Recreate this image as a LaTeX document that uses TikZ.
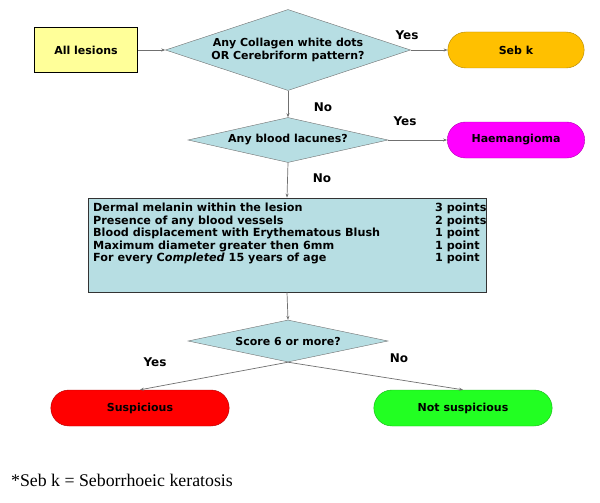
\documentclass[tikz,border=0pt]{standalone}
\usepackage{fontspec}
\setmainfont{DejaVu Sans}
\newfontfamily\footfont{Liberation Serif}
\usetikzlibrary{shapes.geometric,shapes.misc,arrows.meta}
\definecolor{dblue}{HTML}{B7DEE3}
\definecolor{lyellow}{HTML}{FFFF99}
\definecolor{sebk}{HTML}{FFC000}
\definecolor{magen}{HTML}{FF00FF}
\definecolor{redp}{HTML}{FF0000}
\definecolor{greenp}{HTML}{22FF22}
\definecolor{lineg}{HTML}{707070}
\tikzset{
  lbl/.style={font=\bfseries\fontsize{11}{13}\selectfont, text=black},
  decision/.style={diamond, draw=lineg, fill=dblue, inner sep=0pt, align=center, lbl},
  pill/.style={rounded rectangle, draw=#1!70!black, fill=#1, lbl},
  conn/.style={draw=lineg, line width=0.7pt, -{Stealth[length=4pt,width=3pt]}},
  ans/.style={lbl, font=\bfseries\fontsize{12}{14}\selectfont}
}
\begin{document}
\begin{tikzpicture}[x=1pt,y=-1pt]
\useasboundingbox[fill=white] (0,0) rectangle (600,503);
\node[draw=black, line width=0.8pt, fill=lyellow, minimum width=103pt, minimum height=45pt, lbl] (all) at (86,50) {All lesions};
\node[decision, shape aspect=3, minimum width=245pt, minimum height=81pt] (d1) at (288,50) {Any Collagen white dots\\OR Cerebriform pattern?};
\node[pill=sebk, minimum width=143pt, minimum height=36pt] (seb) at (516,50) {Seb k};
\node[decision, shape aspect=4.4, minimum width=200pt, minimum height=45pt] (d2) at (288,140) {Any blood lacunes?};
\node[pill=magen, minimum width=144pt, minimum height=36pt] (haem) at (516,140) {Haemangioma};
\node[draw=black!80, line width=0.8pt, fill=dblue, minimum width=398pt, minimum height=94pt] (box) at (287,245) {};
\node[anchor=north west, inner sep=0pt, lbl, font=\bfseries\fontsize{11.2}{15}\selectfont] (score) at (93,201) {%
\begin{tabular}{@{}p{342pt}@{}l@{}}
Dermal melanin within the lesion & 3 points\\[-2.5pt]
Presence of any blood vessels & 2 points\\[-2.5pt]
Blood displacement with Erythematous Blush & 1 point\\[-2.5pt]
Maximum diameter greater then 6mm & 1 point\\[-2.5pt]
For every C\textit{ompleted} 15 years of age & 1 point
\end{tabular}};
\node[decision, shape aspect=4.8, minimum width=200pt, minimum height=42pt] (d3) at (288,341) {Score 6 or more?};
\node[pill=redp, minimum width=185pt, minimum height=36pt] (susp) at (140,408) {Suspicious};
\node[pill=greenp, minimum width=185pt, minimum height=36pt] (nsusp) at (463,408) {Not suspicious};
\draw[conn] (all.east) -- (d1.west);
\draw[conn] (d1.east) -- (seb.west);
\draw[conn] (d1.south) -- (d2.north);
\draw[conn] (d2.east) -- (haem.west);
\draw[conn] (d2.south) -- (box.north);
\draw[conn] (box.south) -- (d3.north);
\draw[conn] (d3.south) -- (susp.north);
\draw[conn] (d3.south) -- (nsusp.north);
\node[ans] (y1) at (407,35) {Yes};
\node[ans] (n1) at (323,107) {No};
\node[ans] (y2) at (405,121) {Yes};
\node[ans] (n2) at (322,178) {No};
\node[ans] (y3) at (155,362) {Yes};
\node[ans] (n3) at (399,358) {No};
\node[anchor=west, inner sep=0pt, font=\footfont\fontsize{17.8}{20}\selectfont] (foot) at (11,480) {*Seb k = Seborrhoeic keratosis};
\end{tikzpicture}
\end{document}
